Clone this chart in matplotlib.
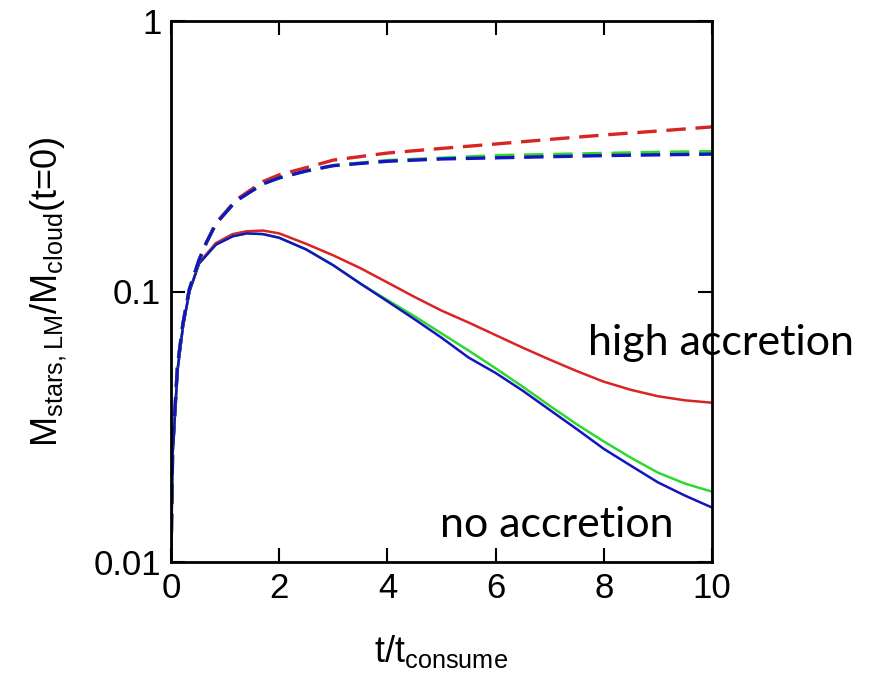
import matplotlib
matplotlib.use("Agg")
import matplotlib.pyplot as plt
from matplotlib.ticker import FixedLocator, NullLocator

plt.rcParams['font.family'] = ['Liberation Sans', 'DejaVu Sans']
plt.rcParams['mathtext.default'] = 'regular'
plt.rcParams['lines.scale_dashes'] = False

# solid curves: M_stars,LM / M_cloud(t=0)
t_solid = [0, 0.03, 0.12, 0.22, 0.34, 0.52, 0.83, 1.14, 1.4, 1.7, 2.0, 2.5, 3.0,
           3.5, 4.0, 4.5, 5.0, 5.5, 6.0, 6.5, 7.0, 7.5, 8.0, 8.5, 9.0, 9.5, 10]
red_solid = [0.01, 0.025, 0.051, 0.074, 0.100, 0.128, 0.151, 0.163, 0.167, 0.168,
             0.164, 0.150, 0.136, 0.122, 0.108, 0.0955, 0.085, 0.0768, 0.069, 0.062,
             0.056, 0.0508, 0.0464, 0.0433, 0.0410, 0.0396, 0.0388]
green_solid = [0.01, 0.025, 0.051, 0.074, 0.100, 0.127, 0.149, 0.160, 0.164, 0.163,
               0.158, 0.143, 0.125, 0.107, 0.093, 0.081, 0.070, 0.0605, 0.052, 0.0445,
               0.0378, 0.0323, 0.0279, 0.0243, 0.0214, 0.0195, 0.0182]
blue_solid = [0.01, 0.025, 0.051, 0.074, 0.100, 0.127, 0.149, 0.160, 0.164, 0.163,
              0.158, 0.143, 0.125, 0.107, 0.092, 0.079, 0.0675, 0.057, 0.050, 0.043,
              0.0365, 0.031, 0.0262, 0.0227, 0.0197, 0.0176, 0.0159]

# dashed curves
t_dashed = [0, 0.03, 0.12, 0.22, 0.34, 0.52, 0.65, 0.83, 1.2, 1.7, 2.0, 2.5, 3.0,
            4.0, 5.0, 6.0, 7.0, 8.0, 9.0, 10]
red_dashed = [0.01, 0.026, 0.053, 0.076, 0.102, 0.131, 0.151, 0.179, 0.218, 0.255,
              0.270, 0.287, 0.306, 0.325, 0.338, 0.351, 0.365, 0.379, 0.392, 0.406]
green_dashed = [0.01, 0.026, 0.053, 0.076, 0.102, 0.131, 0.151, 0.178, 0.216, 0.250,
                0.263, 0.279, 0.292, 0.305, 0.311, 0.318, 0.321, 0.324, 0.327, 0.329]
blue_dashed = [0.01, 0.026, 0.053, 0.076, 0.102, 0.131, 0.151, 0.178, 0.216, 0.250,
               0.263, 0.279, 0.292, 0.303, 0.309, 0.312, 0.315, 0.318, 0.320, 0.322]

y_ticks = [0.01, 0.1, 1]
y_ticklabels = ['0.01', '0.1', '1']
x_ticks = [0, 2, 4, 6, 8, 10]

RED = '#d92424'
GREEN = '#2ed82e'
BLUE = '#1414c0'

fig = plt.figure(figsize=(8.73, 6.81), dpi=100)
ax = fig.add_axes([171 / 873, 1 - 562 / 681, 541 / 873, 541 / 681])

for y, c in [(red_solid, RED), (green_solid, GREEN), (blue_solid, BLUE)]:
    ax.plot(t_solid, y, color=c, lw=1.8)
for y, c in [(red_dashed, RED), (green_dashed, GREEN), (blue_dashed, BLUE)]:
    ax.plot(t_dashed, y, color=c, lw=2.4, dashes=(14, 7))

ax.set_yscale('log')
ax.set_xlim(0, 10)
ax.set_ylim(0.01, 1)
ax.yaxis.set_major_locator(FixedLocator(y_ticks))
ax.yaxis.set_minor_locator(NullLocator())
ax.set_yticklabels(y_ticklabels)
ax.set_xticks(x_ticks)

ax.tick_params(direction='in', length=10, width=1.5, labelsize=25,
               top=True, right=True, pad=7)
for s in ax.spines.values():
    s.set_linewidth(2)

ax.set_xlabel('t/t$_{consume}$', fontsize=26, labelpad=20)
ax.set_ylabel('M$_{stars,LM}$/M$_{cloud}$(t=0)', fontsize=26, labelpad=18)

ax.text(7.71, 0.0582, 'high accretion', fontsize=31, family='Lato',
        ha='left', va='baseline', clip_on=False)
ax.text(4.97, 0.01237, 'no accretion', fontsize=31, family='Lato',
        ha='left', va='baseline', clip_on=False)

fig.savefig('out.png', dpi=100)
